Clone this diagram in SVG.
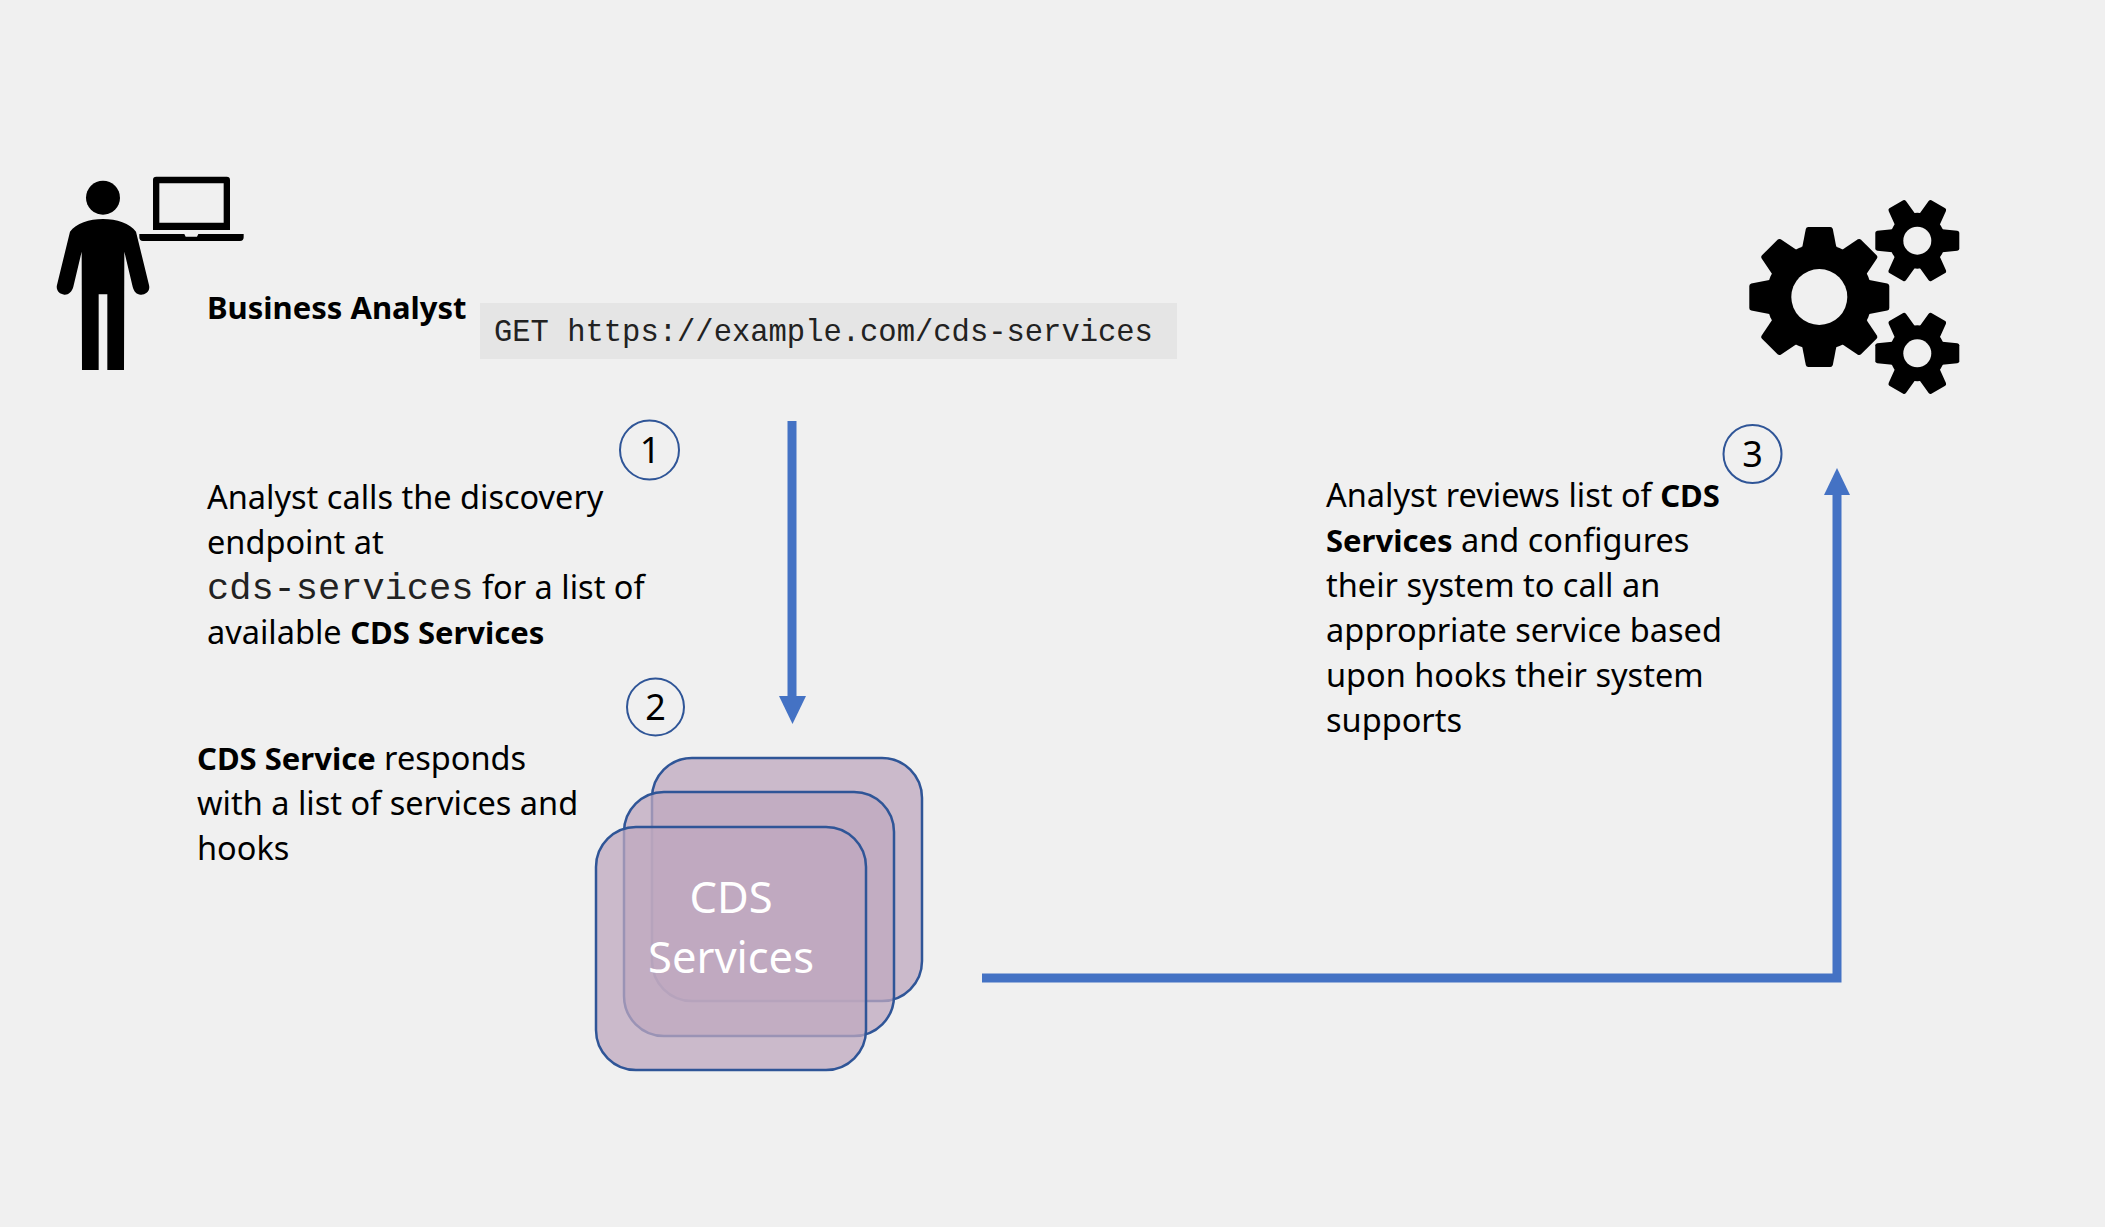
<svg xmlns="http://www.w3.org/2000/svg" width="2105" height="1227" viewBox="0 0 2105 1227">
<style>
text{font-family:"Noto Sans","Open Sans","Liberation Sans",sans-serif;fill:#000}
.t{font-size:32.500px}
.b{font-weight:700;font-size:31px}
.m{font-family:"Liberation Mono",monospace;fill:#222}
.card{fill:#BFA8BF;fill-opacity:.75;stroke:#2F5597;stroke-width:2.5}
.num{fill:none;stroke:#2F5597;stroke-width:2}
.n{font-size:36px;text-anchor:middle}
.conn{fill:none;stroke:#4472C4;stroke-width:9}
</style>
<defs>
<g id="big"><circle r="53"/><path id="tb" d="M45-17L50-17L68-13.5Q70-13 70-11L70 11Q70 13 68 13.5L50 17L45 17Z"/>
<use href="#tb" transform="rotate(45)"/><use href="#tb" transform="rotate(90)"/><use href="#tb" transform="rotate(135)"/><use href="#tb" transform="rotate(180)"/><use href="#tb" transform="rotate(225)"/><use href="#tb" transform="rotate(270)"/><use href="#tb" transform="rotate(315)"/></g>
<g id="small"><circle r="28"/><path id="ts" d="M20-12L25-11.5L40-10Q42-9.5 42-8L42 8Q42 9.5 40 10L25 11.5L20 12Z"/>
<use href="#ts" transform="rotate(60)"/><use href="#ts" transform="rotate(120)"/><use href="#ts" transform="rotate(180)"/><use href="#ts" transform="rotate(240)"/><use href="#ts" transform="rotate(300)"/></g>
</defs>
<rect width="2105" height="1227" fill="#F0F0F0"/>
<g id="analyst">
<g transform="translate(30 150) scale(.33333)">
<circle cx="219" cy="143" r="51"/>
<path d="M219 207C260 207 300 220 318 245L357 405C362 425 345 435 332 434C320 433 312 425 308 410L283 305L282 660L232 660L232 433L206 433L206 660L156 660L155 305L130 410C126 425 115 435 103 434C88 433 77 420 81 405L120 245C138 220 178 207 219 207Z"/>
<path fill-rule="evenodd" d="M379 80H590Q600 80 600 90V240H369V90Q369 80 379 80ZM388 100V218H581V100Z"/>
<path d="M328 252H463L467 260H501L505 252H641V262Q641 273 630 273H339Q328 273 328 262Z"/>
</g>
<text class="b" x="207" y="319">Business Analyst</text>
</g>
<g id="request">
<rect x="480" y="303" width="697" height="56" fill="#E5E5E5"/>
<text class="m" x="494" y="341" font-size="30.500">GET https://example.com/cds-services</text>
</g>
<g id="gears">
<use href="#big" x="1819.3" y="297"/><circle cx="1819.3" cy="297" r="28" fill="#F0F0F0"/>
<use href="#small" x="1917.3" y="240.7"/><circle cx="1917.3" cy="240.7" r="14" fill="#F0F0F0"/>
<use href="#small" x="1917.3" y="353.3"/><circle cx="1917.3" cy="353.3" r="14" fill="#F0F0F0"/>
</g>
<g id="step1">
<circle class="num" cx="649.500" cy="450" r="29.500"/><text class="n" x="650" y="463">1</text>
<text class="t" x="207" y="509">Analyst calls the discovery</text>
<text class="t" x="207" y="554">endpoint at</text>
<text class="t" x="207" y="599"><tspan class="m" font-size="37">cds-services</tspan> for a list of</text>
<text class="t" x="207" y="644">available <tspan class="b">CDS Services</tspan></text>
</g>
<g id="step2">
<circle class="num" cx="655.500" cy="707" r="28.500"/><text class="n" x="655.500" y="720">2</text>
<text class="t" x="197" y="770"><tspan class="b">CDS Service</tspan> responds</text>
<text class="t" x="197" y="815">with a list of services and</text>
<text class="t" x="197" y="860">hooks</text>
</g>
<g id="cds-services">
<rect class="card" x="652" y="758" width="270" height="243" rx="40"/>
<rect class="card" x="624" y="792" width="270" height="244" rx="40"/>
<rect class="card" x="596" y="827" width="270" height="243" rx="40"/>
<text x="731" y="913" font-size="43.500" text-anchor="middle" style="fill:#fff">CDS</text>
<text x="731" y="973" font-size="43.500" text-anchor="middle" style="fill:#fff">Services</text>
</g>
<g id="step3">
<circle class="num" cx="1752.500" cy="454" r="29"/><text class="n" x="1752.500" y="467">3</text>
<text class="t" x="1326" y="507">Analyst reviews list of <tspan class="b">CDS</tspan></text>
<text class="t" x="1326" y="552"><tspan class="b">Services</tspan> and configures</text>
<text class="t" x="1326" y="597">their system to call an</text>
<text class="t" x="1326" y="642">appropriate service based</text>
<text class="t" x="1326" y="687">upon hooks their system</text>
<text class="t" x="1326" y="732">supports</text>
</g>
<g id="connectors">
<path class="conn" d="M792 421V700"/><path d="M779 696H806L792.500 724Z" fill="#4472C4"/>
<path class="conn" d="M982 978H1837V490"/><path d="M1824 495H1850L1837 468Z" fill="#4472C4"/>
</g>
</svg>
